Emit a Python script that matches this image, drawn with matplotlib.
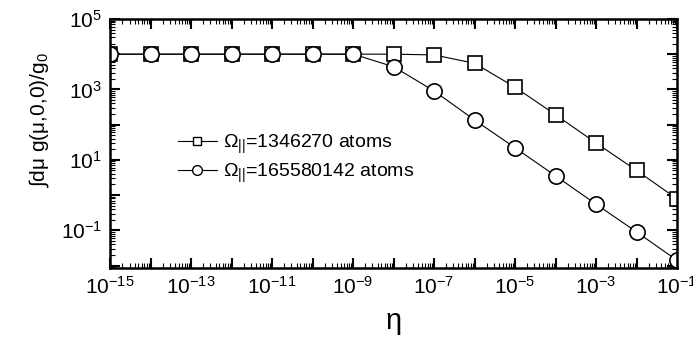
import numpy as np
import matplotlib
matplotlib.use('Agg')
import matplotlib.pyplot as plt
from matplotlib.ticker import LogLocator, FuncFormatter, NullFormatter
from matplotlib.lines import Line2D

# ----------
# Data
eta = [1e-15, 1e-14, 1e-13, 1e-12, 1e-11, 1e-10, 1e-9, 1e-8,
       1e-7, 1e-6, 1e-5, 1e-4, 1e-3, 1e-2, 1e-1]
small_omega = [1e4, 1e4, 1e4, 1e4, 1e4, 1e4, 1e4, 1e4,
               9.5e3, 5.5e3, 1.15e3, 190, 30, 5.0, 0.78]
large_omega = [1e4, 1e4, 1e4, 1e4, 1e4, 1e4, 1e4, 4.4e3,
               900, 135, 22, 3.5, 0.55, 0.09, 0.014]
labels = [r'$\Omega_{||}$=1346270 atoms', r'$\Omega_{||}$=165580142 atoms']
# ----------

matplotlib.rc('font', family=['Liberation Sans', 'DejaVu Sans'])
matplotlib.rc('mathtext', fontset='custom', rm='Liberation Sans',
              it='Liberation Sans', bf='Liberation Sans')

fig = plt.figure(figsize=(6.93, 3.38), dpi=100, facecolor='white')
ax = fig.add_axes([0.159, 0.207, 0.818, 0.737])

ax.plot(eta, small_omega, '-', color='black', lw=0.8, marker='s', ms=10,
        mfc='white', mec='black', mew=1.2, clip_on=True)
ax.plot(eta, large_omega, '-', color='black', lw=0.8, marker='o', ms=11,
        mfc='white', mec='black', mew=1.2, clip_on=True)

ax.set_xscale('log')
ax.set_yscale('log')
ax.set_xlim(1e-15, 1e-1)
ax.set_ylim(8.5e-3, 1e5)

for spine in ax.spines.values():
    spine.set_linewidth(1.8)

ax.xaxis.set_major_locator(LogLocator(base=10, numticks=30))
ax.yaxis.set_major_locator(LogLocator(base=10, numticks=30))
ax.xaxis.set_minor_locator(LogLocator(base=10, subs=np.arange(2, 10), numticks=30))
ax.yaxis.set_minor_locator(LogLocator(base=10, subs=np.arange(2, 10), numticks=30))
ax.xaxis.set_minor_formatter(NullFormatter())
ax.yaxis.set_minor_formatter(NullFormatter())


def odd_decades(v, pos):
    e = int(round(np.log10(v)))
    if e % 2 == 0:
        return ''
    return r'$10^{%d}$' % e


ax.xaxis.set_major_formatter(FuncFormatter(odd_decades))
ax.yaxis.set_major_formatter(FuncFormatter(odd_decades))

ax.tick_params(which='both', direction='in', top=True, right=True)
ax.tick_params(which='major', length=7, width=1.5, labelsize=15, pad=6)
ax.tick_params(which='minor', length=3.5, width=0.8)

ax.set_xlabel(r'$\eta$', fontsize=21, labelpad=8)
ax.set_ylabel('∫dμ g(μ,0,0)/g$_0$', fontsize=15)
ax.yaxis.set_label_coords(-0.105, 0.594)

# Legend without frame
handles = [Line2D([], [], color='black', lw=0.8, marker='s', ms=6,
                  mfc='white', mec='black', mew=1.0),
           Line2D([], [], color='black', lw=0.8, marker='o', ms=7,
                  mfc='white', mec='black', mew=1.0)]
ax.legend(handles, labels, loc='center left', bbox_to_anchor=(0.095, 0.44),
          frameon=False, fontsize=14, handlelength=2.0, handletextpad=0.35,
          labelspacing=0.3, borderpad=0.2)

plt.savefig('out.png', dpi=100, facecolor='white')
